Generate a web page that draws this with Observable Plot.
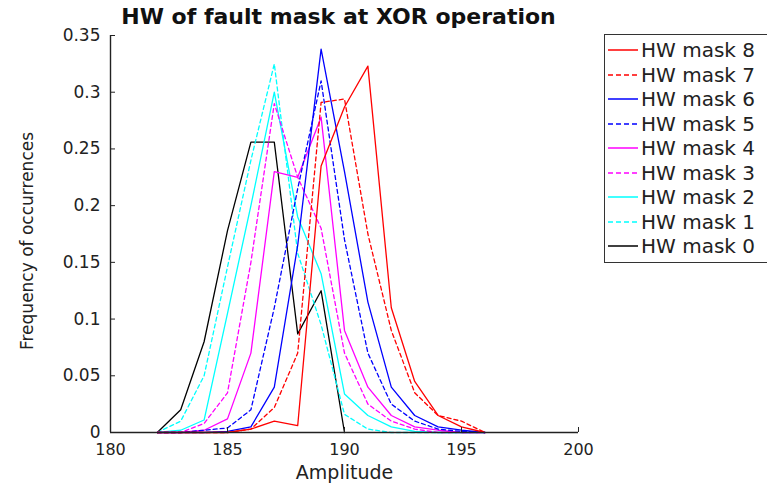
<!DOCTYPE html>
<html><head><meta charset="utf-8">
<script src="https://cdn.jsdelivr.net/npm/d3@7"></script>
<script src="https://cdn.jsdelivr.net/npm/@observablehq/plot@0.6"></script>
<style>
body{margin:0;background:#fff;}
#wrap{position:relative;width:767px;height:489px;overflow:hidden;font-family:"DejaVu Sans",sans-serif;}
#title{position:absolute;left:0;width:677px;top:4px;text-align:center;font-weight:bold;font-size:22px;color:#111;white-space:nowrap;}
#legend{position:absolute;left:604px;top:34px;width:200px;border:1.5px solid #333;background:#fff;padding:3px 0;}
.row{height:24.5px;display:flex;align-items:center;font-size:20px;color:#222;white-space:nowrap;}
.row svg{margin-left:3px;margin-right:3px;}
</style></head>
<body><div id="wrap"><div id="chart"></div><div id="title"></div><div id="legend"></div></div>
<script>
const title = "HW of fault mask at XOR operation";
const xLabel = "Amplitude";
const yLabel = "Frequency of occurrences";
const xTicks = [180, 185, 190, 195, 200];
const yTicks = [0, 0.05, 0.1, 0.15, 0.2, 0.25, 0.3, 0.35];
const yTickLabels = ["0", "0.05", "0.1", "0.15", "0.2", "0.25", "0.3", "0.35"];

const amp0 = [182, 183, 184, 185, 186, 187, 188, 189, 190];
const amp = [182, 183, 184, 185, 186, 187, 188, 189, 190, 191, 192, 193, 194, 195, 196];

const mask0 = [0, 0.02, 0.08, 0.178, 0.256, 0.256, 0.087, 0.125, 0];
const mask1 = [0, 0.01, 0.05, 0.146, 0.24, 0.325, 0.158, 0.095, 0.016, 0.003, 0, 0, 0, 0, 0];
const mask2 = [0, 0.002, 0.011, 0.105, 0.2, 0.3, 0.19, 0.14, 0.034, 0.015, 0.005, 0.001, 0, 0, 0];
const mask3 = [0, 0, 0.008, 0.035, 0.15, 0.29, 0.225, 0.18, 0.07, 0.025, 0.01, 0.003, 0, 0, 0];
const mask4 = [0, 0, 0.002, 0.012, 0.07, 0.23, 0.225, 0.278, 0.09, 0.04, 0.015, 0.005, 0.002, 0, 0];
const mask5 = [0, 0, 0.002, 0.004, 0.02, 0.11, 0.215, 0.31, 0.17, 0.07, 0.025, 0.01, 0.003, 0.001, 0];
const mask6 = [0, 0, 0, 0.001, 0.005, 0.04, 0.165, 0.338, 0.23, 0.115, 0.04, 0.015, 0.005, 0.002, 0];
const mask7 = [0, 0, 0, 0, 0.003, 0.022, 0.07, 0.291, 0.294, 0.175, 0.09, 0.035, 0.015, 0.01, 0];
const mask8 = [0, 0, 0, 0, 0.003, 0.01, 0.006, 0.235, 0.287, 0.323, 0.11, 0.045, 0.015, 0.005, 0];

const names = ["HW mask 0","HW mask 1","HW mask 2","HW mask 3","HW mask 4","HW mask 5","HW mask 6","HW mask 7","HW mask 8"];
const colors = ["#000000","#00ffff","#00ffff","#ff00ff","#ff00ff","#0000ff","#0000ff","#ff0000","#ff0000"];
const dashed = [false, true, false, true, false, true, false, true, false];
const xsList = [amp0, amp, amp, amp, amp, amp, amp, amp, amp];
const ysList = [mask0, mask1, mask2, mask3, mask4, mask5, mask6, mask7, mask8];

const DASH = "4,3";
const lineMarks = names.map((n, i) => {
  const rows = xsList[i].map((x, j) => ({x, y: ysList[i][j]}));
  return Plot.line(rows, {x: "x", y: "y", stroke: colors[i], strokeWidth: 1.3,
    strokeDasharray: dashed[i] ? DASH : null});
});

const chart = Plot.plot({
  width: 767, height: 489,
  marginTop: 35, marginBottom: 57, marginLeft: 110, marginRight: 189,
  x: {domain: [180, 200]},
  y: {domain: [0, 0.35]},
  style: {fontFamily: "DejaVu Sans", fontSize: "17px", color: "#222", background: "#fff"},
  marks: [
    ...lineMarks,
    Plot.ruleX([180], {stroke: "#222", strokeWidth: 1.4}),
    Plot.ruleY([0], {stroke: "#222", strokeWidth: 1.4}),
    Plot.axisX({ticks: xTicks, tickSize: -5, tickPadding: 16, label: null, fontSize: 16, tickFormat: d => String(d)}),
    Plot.axisY({ticks: yTicks, tickSize: -5, tickPadding: 15, label: null, fontSize: 17, tickFormat: (d, i) => yTickLabels[yTicks.indexOf(d)]}),
    Plot.text([xLabel], {text: d => d, frameAnchor: "bottom", textAnchor: "middle", dy: 46, fontSize: 19, fill: "#222"}),
    Plot.text([yLabel], {text: d => d, frameAnchor: "left", textAnchor: "middle", dx: -83, dy: 7, rotate: -90, fontSize: 17, fill: "#222"})
  ]
});
document.getElementById("chart").appendChild(chart);
document.getElementById("title").textContent = title;

const legend = document.getElementById("legend");
for (let i = names.length - 1; i >= 0; i--) {
  const row = document.createElement("div");
  row.className = "row";
  row.innerHTML = `<svg width="30" height="10"><line x1="0" y1="5" x2="30" y2="5" stroke="${colors[i]}" stroke-width="1.5" ${dashed[i] ? 'stroke-dasharray="5,3"' : ''}/></svg><span>${names[i]}</span>`;
  legend.appendChild(row);
}
</script></body></html>
